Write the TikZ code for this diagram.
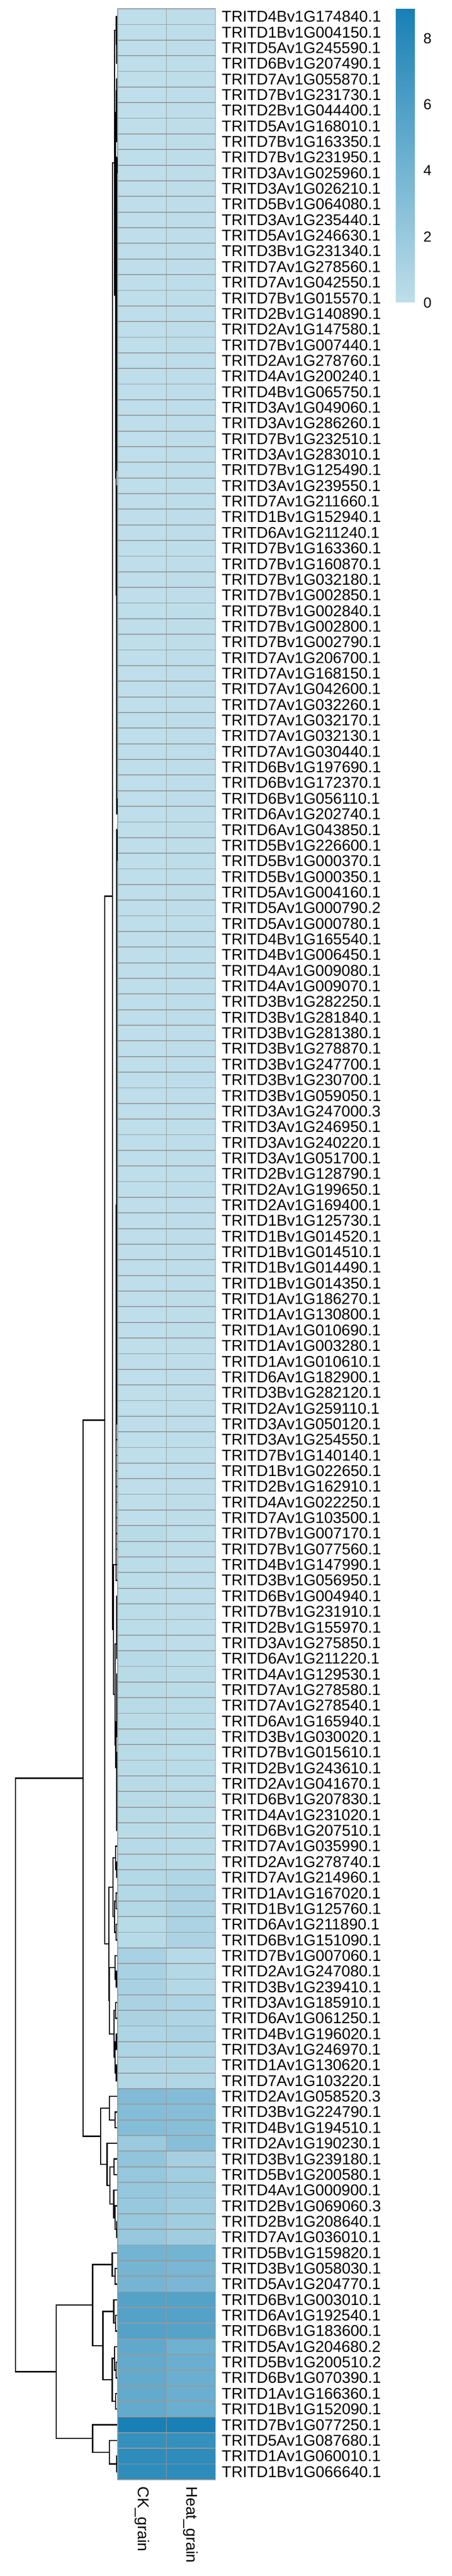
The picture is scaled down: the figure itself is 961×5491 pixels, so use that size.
\documentclass[tikz,border=0pt]{standalone}
\usepackage{fontspec}
\setmainfont{Liberation Sans}
\usetikzlibrary{calc}

\definecolor{hmlow}{RGB}{190,222,234}
\definecolor{hmhigh}{RGB}{24,128,180}
\definecolor{hmgrid}{RGB}{153,153,153}

% one merge of the row dendrogram: name, x of the merge, two children
\newcommand\dnode[4]{%
  \path let \p1=($(#3)!0.5!(#4)$) in coordinate (#1) at ({(#2)*1pt},\y1);
  \draw[dendro] (#3) -- (#3 -| #1) -- (#4 -| #1) -- (#4);}

% one row of the heat map: row, CK value, Heat value
\newcommand\hmrow[3]{%
  \pgfmathsetmacro\pa{min(100,#2*100/8.91)}%
  \pgfmathsetmacro\pb{min(100,#3*100/8.91)}%
  \path[cell, fill=hmhigh!\pa!hmlow] (250,{18.75+33.333*(#1-1)}) rectangle (354.2,{18.75+33.333*#1});
  \path[cell, fill=hmhigh!\pb!hmlow] (354.2,{18.75+33.333*(#1-1)}) rectangle (458.4,{18.75+33.333*#1});}

\begin{document}
\begin{tikzpicture}[x=1pt, y=-1pt,
    dendro/.style={line width=2.6pt, black},
    cell/.style={draw=hmgrid, line width=2pt},
    rowlab/.style={anchor=west, inner sep=0pt, font=\fontsize{33.3}{40}\selectfont},
    collab/.style={anchor=west, inner sep=0pt, rotate=-90, font=\fontsize{33.3}{40}\selectfont},
    ticklab/.style={anchor=west, inner sep=0pt, font=\fontsize{31}{36}\selectfont}]

    \useasboundingbox (0,0) rectangle (961,5491);

    % heat map cells
    \foreach \rr in {1,...,97} {\hmrow{\rr}{0.03}{0.08}}
    \foreach \rr/\va/\vb in {98/0.3/0.1, 99/0.15/0.1, 100/0.15/0.1, 101/0.15/0.1, 102/0.15/0.1,
        103/0.15/0.1, 104/0.15/0.1, 105/0.15/0.1, 106/0.4/0.15, 107/0.25/0.2, 108/0.25/0.2,
        109/0.25/0.2, 110/0.25/0.2, 111/0.25/0.2, 112/0.25/0.2, 113/0.25/0.2, 114/0.25/0.2,
        115/0.25/0.2, 116/0.25/0.2, 117/0.25/0.2, 118/0.35/0.3, 119/0.35/0.3,
        120/0.6/0.8, 121/0.6/1.0, 122/0.6/1.0, 123/0.3/1.0, 124/0.4/1.0, 125/1.2/0.4,
        126/1.2/0.6, 127/1.2/0.6, 128/1.1/0.9, 129/1.1/0.9, 130/0.9/1.0, 131/0.9/0.9,
        132/0.7/0.8, 133/0.7/0.7, 134/3.3/3.2, 135/3.1/3.0, 136/3.1/2.9, 137/1.9/2.9,
        138/2.4/1.3, 139/2.2/1.6, 140/2.2/1.8, 141/2.1/1.6, 142/2.1/1.6, 143/2.1/1.6,
        144/4.0/4.0, 145/3.9/3.7, 146/3.9/3.7, 147/5.7/5.7, 148/5.7/5.7, 149/5.7/5.6,
        150/5.0/4.3, 151/4.9/4.5, 152/4.9/4.5, 153/4.9/4.5, 154/4.9/4.5, 155/8.9/8.9,
        156/7.4/7.4, 157/7.8/7.8, 158/7.7/7.8}
        {\hmrow{\rr}{\va}{\vb}}

    % row labels
    \foreach \lab [count=\rr] in {TRITD4Bv1G174840.1, TRITD1Bv1G004150.1, TRITD5Av1G245590.1,
        TRITD6Bv1G207490.1, TRITD7Av1G055870.1, TRITD7Bv1G231730.1, TRITD2Bv1G044400.1,
        TRITD5Av1G168010.1, TRITD7Bv1G163350.1, TRITD7Bv1G231950.1, TRITD3Av1G025960.1,
        TRITD3Av1G026210.1, TRITD5Bv1G064080.1, TRITD3Av1G235440.1, TRITD5Av1G246630.1,
        TRITD3Bv1G231340.1, TRITD7Av1G278560.1, TRITD7Av1G042550.1, TRITD7Bv1G015570.1,
        TRITD2Bv1G140890.1, TRITD2Av1G147580.1, TRITD7Bv1G007440.1, TRITD2Av1G278760.1,
        TRITD4Av1G200240.1, TRITD4Bv1G065750.1, TRITD3Av1G049060.1, TRITD3Av1G286260.1,
        TRITD7Bv1G232510.1, TRITD3Av1G283010.1, TRITD7Bv1G125490.1, TRITD3Av1G239550.1,
        TRITD7Av1G211660.1, TRITD1Bv1G152940.1, TRITD6Av1G211240.1, TRITD7Bv1G163360.1,
        TRITD7Bv1G160870.1, TRITD7Bv1G032180.1, TRITD7Bv1G002850.1, TRITD7Bv1G002840.1,
        TRITD7Bv1G002800.1, TRITD7Bv1G002790.1, TRITD7Av1G206700.1, TRITD7Av1G168150.1,
        TRITD7Av1G042600.1, TRITD7Av1G032260.1, TRITD7Av1G032170.1, TRITD7Av1G032130.1,
        TRITD7Av1G030440.1, TRITD6Bv1G197690.1, TRITD6Bv1G172370.1, TRITD6Bv1G056110.1,
        TRITD6Av1G202740.1, TRITD6Av1G043850.1, TRITD5Bv1G226600.1, TRITD5Bv1G000370.1,
        TRITD5Bv1G000350.1, TRITD5Av1G004160.1, TRITD5Av1G000790.2, TRITD5Av1G000780.1,
        TRITD4Bv1G165540.1, TRITD4Bv1G006450.1, TRITD4Av1G009080.1, TRITD4Av1G009070.1,
        TRITD3Bv1G282250.1, TRITD3Bv1G281840.1, TRITD3Bv1G281380.1, TRITD3Bv1G278870.1,
        TRITD3Bv1G247700.1, TRITD3Bv1G230700.1, TRITD3Bv1G059050.1, TRITD3Av1G247000.3,
        TRITD3Av1G246950.1, TRITD3Av1G240220.1, TRITD3Av1G051700.1, TRITD2Bv1G128790.1,
        TRITD2Av1G199650.1, TRITD2Av1G169400.1, TRITD1Bv1G125730.1, TRITD1Bv1G014520.1,
        TRITD1Bv1G014510.1, TRITD1Bv1G014490.1, TRITD1Bv1G014350.1, TRITD1Av1G186270.1,
        TRITD1Av1G130800.1, TRITD1Av1G010690.1, TRITD1Av1G003280.1, TRITD1Av1G010610.1,
        TRITD6Av1G182900.1, TRITD3Bv1G282120.1, TRITD2Av1G259110.1, TRITD3Av1G050120.1,
        TRITD3Av1G254550.1, TRITD7Bv1G140140.1, TRITD1Bv1G022650.1, TRITD2Bv1G162910.1,
        TRITD4Av1G022250.1, TRITD7Av1G103500.1, TRITD7Bv1G007170.1, TRITD7Bv1G077560.1,
        TRITD4Bv1G147990.1, TRITD3Bv1G056950.1, TRITD6Bv1G004940.1, TRITD7Bv1G231910.1,
        TRITD2Bv1G155970.1, TRITD3Av1G275850.1, TRITD6Av1G211220.1, TRITD4Av1G129530.1,
        TRITD7Av1G278580.1, TRITD7Av1G278540.1, TRITD6Av1G165940.1, TRITD3Bv1G030020.1,
        TRITD7Bv1G015610.1, TRITD2Bv1G243610.1, TRITD2Av1G041670.1, TRITD6Bv1G207830.1,
        TRITD4Av1G231020.1, TRITD6Bv1G207510.1, TRITD7Av1G035990.1, TRITD2Av1G278740.1,
        TRITD7Av1G214960.1, TRITD1Av1G167020.1, TRITD1Bv1G125760.1, TRITD6Av1G211890.1,
        TRITD6Bv1G151090.1, TRITD7Bv1G007060.1, TRITD2Av1G247080.1, TRITD3Bv1G239410.1,
        TRITD3Av1G185910.1, TRITD6Av1G061250.1, TRITD4Bv1G196020.1, TRITD3Av1G246970.1,
        TRITD1Av1G130620.1, TRITD7Av1G103220.1, TRITD2Av1G058520.3, TRITD3Bv1G224790.1,
        TRITD4Bv1G194510.1, TRITD2Av1G190230.1, TRITD3Bv1G239180.1, TRITD5Bv1G200580.1,
        TRITD4Av1G000900.1, TRITD2Bv1G069060.3, TRITD2Bv1G208640.1, TRITD7Av1G036010.1,
        TRITD5Bv1G159820.1, TRITD3Bv1G058030.1, TRITD5Av1G204770.1, TRITD6Bv1G003010.1,
        TRITD6Av1G192540.1, TRITD6Bv1G183600.1, TRITD5Av1G204680.2, TRITD5Bv1G200510.2,
        TRITD6Bv1G070390.1, TRITD1Av1G166360.1, TRITD1Bv1G152090.1, TRITD7Bv1G077250.1,
        TRITD5Av1G087680.1, TRITD1Av1G060010.1, TRITD1Bv1G066640.1}
        {\node[rowlab] (r\rr) at (472, {2.08+33.333*\rr}) {\lab};
         \coordinate (l\rr) at (249, {2.08+33.333*\rr});}

    % column labels
    \node[collab] (ck) at (302, 5300) {CK\_grain};
    \node[collab] (heat) at (406, 5300) {Heat\_grain};

    % colour key
    \shade[top color=hmhigh, bottom color=hmlow] (842.5,18.75) rectangle (883,644);
    \foreach \v in {0,2,4,6,8}
        \node[ticklab] (key\v) at (901, {645-70.3*\v}) {\v};

    % dendrogram, upper low-value block
    \dnode{q34}{248.5}{l3}{l4}
    \dnode{q24}{248}{l2}{q34}
    \dnode{B1a}{247.5}{l1}{q24}
    \dnode{t67}{248.5}{l6}{l7}
    \dnode{t57}{248}{l5}{t67}
    \dnode{t89}{248.5}{l8}{l9}
    \dnode{T}{247.5}{t57}{t89}
    \coordinate (ua10) at (l10);
    \foreach \rr [remember=\rr as \pv (initially 10), count=\nn] in {11,...,30}
        {\dnode{ua\rr}{248.6-0.05*\nn}{ua\pv}{l\rr}}
    \coordinate (ub52) at (l52);
    \foreach \rr [remember=\rr as \pv (initially 52), count=\nn] in {51,50,...,31}
        {\dnode{ub\rr}{248.6-0.05*\nn}{ub\pv}{l\rr}}
    \dnode{Uc}{247}{ua30}{ub31}
    \dnode{B1b}{246}{T}{Uc}
    \dnode{B1}{243.5}{B1a}{B1b}
    \coordinate (va53) at (l53);
    \foreach \rr [remember=\rr as \pv (initially 53), count=\nn] in {54,...,101}
        {\dnode{va\rr}{248.6-0.03*\nn}{va\pv}{l\rr}}
    \coordinate (wa102) at (l102);
    \foreach \rr [remember=\rr as \pv (initially 102), count=\nn] in {103,...,106}
        {\dnode{wa\rr}{248.6-0.1*\nn}{wa\pv}{l\rr}}
    \coordinate (wb107) at (l107);
    \foreach \rr [remember=\rr as \pv (initially 107), count=\nn] in {108,...,111}
        {\dnode{wb\rr}{248.6-0.1*\nn}{wb\pv}{l\rr}}
    \coordinate (wc117) at (l117);
    \foreach \rr [remember=\rr as \pv (initially 117), count=\nn] in {116,115,...,112}
        {\dnode{wc\rr}{248.6-0.1*\nn}{wc\pv}{l\rr}}
    \dnode{W2}{246.5}{wb111}{wc112}
    \dnode{W}{245}{wa106}{W2}
    \dnode{B2}{241.3}{va101}{W}
    \dnode{B}{239.3}{B1}{B2}

    % dendrogram, slightly raised block
    \dnode{c120}{248}{l119}{l120}
    \dnode{cx}{246}{l118}{c120}
    \dnode{c122}{247}{l121}{l122}
    \dnode{c124}{247}{l123}{l124}
    \dnode{c1b}{244}{c122}{c124}
    \dnode{C1}{240.7}{cx}{c1b}
    \dnode{c127}{247.5}{l126}{l127}
    \dnode{c2a}{245}{l125}{c127}
    \dnode{c129}{246}{l128}{l129}
    \dnode{c131}{247.5}{l130}{l131}
    \dnode{c133}{247.5}{l132}{l133}
    \dnode{c2c}{245}{c131}{c133}
    \dnode{c2b}{243}{c129}{c2c}
    \dnode{C2}{233}{c2a}{c2b}
    \dnode{C}{231.7}{C1}{C2}
    \dnode{A}{223}{B}{C}

    % dendrogram, middle block
    \dnode{d136}{244.6}{l135}{l136}
    \dnode{D1}{233}{l134}{d136}
    \dnode{d139}{242.5}{l138}{l139}
    \dnode{d143}{248}{l142}{l143}
    \dnode{d141}{245}{l141}{d143}
    \dnode{d140}{242}{l140}{d141}
    \dnode{d2b}{234}{d139}{d140}
    \dnode{D2}{228}{l137}{d2b}
    \dnode{D}{214}{D1}{D2}
    \dnode{Up}{177}{A}{D}

    % dendrogram, high block
    \dnode{e146}{245}{l145}{l146}
    \dnode{E1}{239}{l144}{e146}
    \dnode{e149}{246}{l148}{l149}
    \dnode{e2a}{242}{l147}{e149}
    \dnode{e152}{247}{l151}{l152}
    \dnode{e150}{244}{l150}{e152}
    \dnode{e154}{246}{l153}{l154}
    \dnode{e2b}{239}{e150}{e154}
    \dnode{E2}{219}{e2a}{e2b}
    \dnode{E}{197}{E1}{E2}
    \dnode{f158}{248}{l157}{l158}
    \dnode{G}{233}{l156}{f158}
    \dnode{F}{197}{l155}{G}
    \dnode{L}{120}{E}{F}
    \dnode{root}{33}{Up}{L}

\end{tikzpicture}
\end{document}
